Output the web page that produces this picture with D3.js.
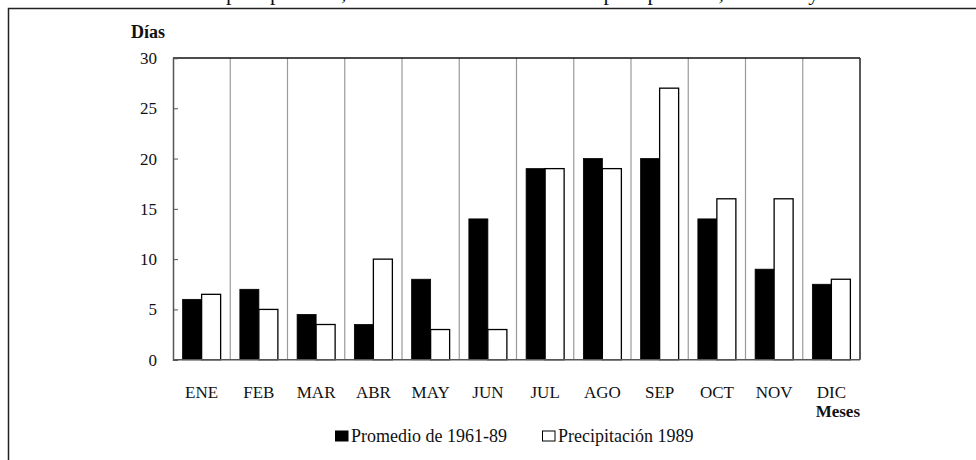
<!DOCTYPE html>
<html lang="es">
<head>
<meta charset="UTF-8">
<title>Días con precipitación</title>
<script src="https://d3js.org/d3.v7.min.js"></script>
<style>
    body { margin: 0; background: #fff; }
    svg text { font-family: "Liberation Serif", "DejaVu Serif", serif; fill: #111; }
</style>
</head>
<body>
<script>
    // data
    const months = ["ENE", "FEB", "MAR", "ABR", "MAY", "JUN", "JUL", "AGO", "SEP", "OCT", "NOV", "DIC"];
    const promedio = [6, 7, 4.5, 3.5, 8, 14, 19, 20, 20, 14, 9, 7.5];
    const precip1989 = [6.5, 5, 3.5, 10, 3, 3, 19, 19, 27, 16, 16, 8];
    const yTicks = [0, 5, 10, 15, 20, 25, 30];
    const seriesNames = ["Promedio de 1961-89", "Precipitación 1989"];

    const width = 976, height = 460;
    const margin = { top: 58, right: 116, bottom: 100, left: 173 };

    const svg = d3.select("body").append("svg")
        .attr("width", width)
        .attr("height", height);

    // title line, cut off at the very top like in the original scan
    svg.append("text")
        .attr("x", 44)
        .attr("y", -0.5)
        .style("font-size", "22px")
        .text("Número de días con precipitación, el número anual de días con precipitación, 1961-89 y 1989");

    // outer frame (left and top only visible)
    svg.append("path")
        .attr("d", `M8.5,${height} V8.5 H${width}`)
        .attr("fill", "none")
        .attr("stroke", "#222")
        .attr("stroke-width", 1.5);

    const x = d3.scaleBand()
        .domain(months)
        .range([margin.left, width - margin.right]);

    const y = d3.scaleLinear()
        .domain([0, 30])
        .range([height - margin.bottom - 0.3, margin.top]);

    const barW = 19;

    // vertical grid between categories
    svg.append("g")
        .selectAll("line")
        .data(months.slice(1))
        .join("line")
        .attr("x1", d => x(d)).attr("x2", d => x(d))
        .attr("y1", y(30)).attr("y2", y(0))
        .attr("stroke", "#9a9a9a")
        .attr("stroke-width", 1.2);

    // bars
    const g = svg.append("g");
    g.selectAll("rect.prom")
        .data(promedio)
        .join("rect")
        .attr("class", "prom")
        .attr("x", (d, i) => x(months[i]) + x.bandwidth() / 2 - barW)
        .attr("y", d => y(d))
        .attr("width", barW)
        .attr("height", d => y(0) - y(d))
        .attr("fill", "#000")
        .attr("stroke", "#000")
        .attr("stroke-width", 0.8);

    g.selectAll("rect.prec")
        .data(precip1989)
        .join("rect")
        .attr("class", "prec")
        .attr("x", (d, i) => x(months[i]) + x.bandwidth() / 2)
        .attr("y", d => y(d))
        .attr("width", barW)
        .attr("height", d => y(0) - y(d))
        .attr("fill", "#fff")
        .attr("stroke", "#000")
        .attr("stroke-width", 1.3);

    // plot frame: top & right dark
    svg.append("line")
        .attr("x1", x.range()[0]).attr("x2", x.range()[1])
        .attr("y1", y(30)).attr("y2", y(30))
        .attr("stroke", "#111").attr("stroke-width", 1.5);
    svg.append("line")
        .attr("x1", x.range()[1]).attr("x2", x.range()[1])
        .attr("y1", y(30)).attr("y2", y(0))
        .attr("stroke", "#222").attr("stroke-width", 1.5);

    // y axis, ticks pointing inward
    const yAxis = svg.append("g")
        .attr("transform", `translate(${margin.left},0)`)
        .call(d3.axisRight(y).tickValues(yTicks).tickSize(5).tickFormat(""));
    yAxis.select(".domain").attr("stroke", "#555").attr("stroke-width", 1.5);
    yAxis.selectAll(".tick line").attr("stroke", "#555");

    svg.append("g")
        .selectAll("text")
        .data(yTicks)
        .join("text")
        .attr("x", margin.left - 16)
        .attr("y", d => y(d))
        .attr("dy", "0.35em")
        .attr("text-anchor", "end")
        .style("font-size", "17px")
        .text(d => d);

    // x axis
    svg.append("line")
        .attr("x1", x.range()[0]).attr("x2", x.range()[1])
        .attr("y1", y(0)).attr("y2", y(0))
        .attr("stroke", "#555").attr("stroke-width", 1.5);

    svg.append("g")
        .selectAll("text")
        .data(months)
        .join("text")
        .attr("x", d => x(d) + x.bandwidth() / 2)
        .attr("y", 398)
        .attr("text-anchor", "middle")
        .style("font-size", "17px")
        .text(d => d);

    // axis titles
    svg.append("text")
        .attr("x", 131).attr("y", 38)
        .style("font-size", "18px")
        .style("font-weight", "bold")
        .text("Días");

    svg.append("text")
        .attr("x", x.range()[1]).attr("y", 417)
        .attr("text-anchor", "end")
        .style("font-size", "17px")
        .style("font-weight", "bold")
        .text("Meses");

    // legend
    const legend = svg.append("g");
    const legendX = [335, 542];
    const legendFill = ["#000", "#fff"];
    seriesNames.forEach((name, i) => {
        legend.append("rect")
            .attr("x", legendX[i] + 0.5).attr("y", 431)
            .attr("width", 12.5).attr("height", 10)
            .attr("fill", legendFill[i])
            .attr("stroke", "#000").attr("stroke-width", 1);
        legend.append("text")
            .attr("x", legendX[i] + 16).attr("y", 442)
            .style("font-size", "18px")
            .text(name);
    });
</script>
</body>
</html>
